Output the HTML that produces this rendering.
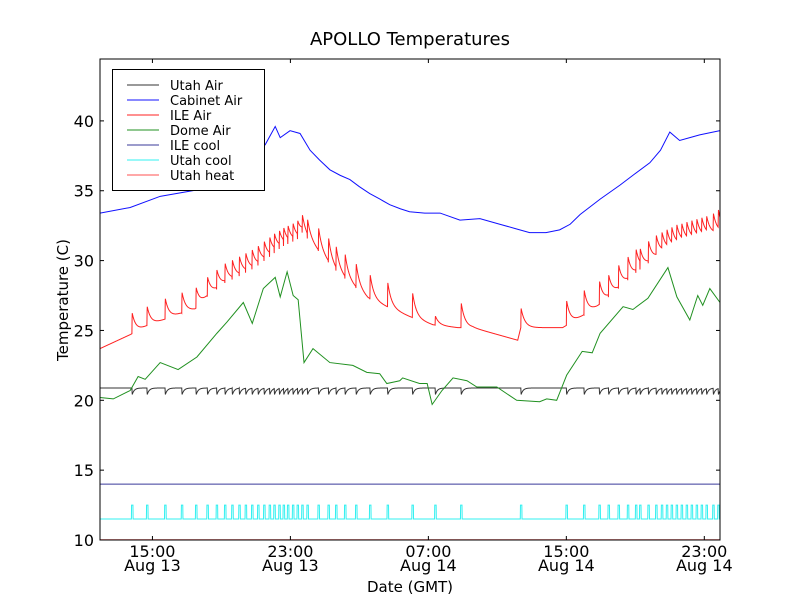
<!DOCTYPE html>
<html><head><meta charset="utf-8"><style>
body{margin:0;background:#fff}
svg{display:block;font-family:"DejaVu Sans","Liberation Sans",sans-serif}
</style></head><body>
<svg id="chart" width="800" height="600" viewBox="0 0 800 600">
<rect width="800" height="600" fill="#fff"/>
<text x="410" y="45" font-size="18" text-anchor="middle">APOLLO Temperatures</text>
<g id="plot"></g>
<g id="axes"></g>
<text x="410" y="592" font-size="15" text-anchor="middle">Date (GMT)</text>
<text transform="translate(68,300) rotate(-90)" font-size="15" text-anchor="middle">Temperature (C)</text>
<g id="legend"></g>
</svg>
<script>
// hours since 00:00 Aug 13
const xTicks = [15, 23, 31, 39, 47];
const xTickTimes = ["15:00", "23:00", "07:00", "15:00", "23:00"];
const xTickDates = ["Aug 13", "Aug 13", "Aug 14", "Aug 14", "Aug 14"];
const yTicks = [10, 15, 20, 25, 30, 35, 40];
const seriesNames = ["Utah Air","Cabinet Air","ILE Air","Dome Air","ILE cool","Utah cool","Utah heat"];
const seriesColors = ["#333","#1010ff","#ff2020","#209020","#3a3a9a","#30f0f0","#ff5050"];
// heater event times (hours)
const spikeTimes = [13.81,14.68,15.73,16.70,17.52,18.18,18.72,19.20,19.62,20.03,20.40,20.77,21.12,21.47,21.79,22.06,22.35,22.60,22.85,23.14,23.41,23.68,23.98,24.62,25.20,25.64,26.16,26.80,27.61,28.63,30.07,31.39,32.89,36.36,39.00,40.02,40.91,41.44,42.02,42.56,43.03,43.27,43.75,44.20,44.53,44.82,45.10,45.39,45.68,45.97,46.26,46.55,46.84,47.12,47.51,47.80];
const spikeAmps = [1.6,1.5,1.6,1.6,1.6,1.5,1.5,1.5,1.5,1.5,1.5,1.5,1.5,1.5,1.5,1.5,1.4,1.4,1.4,1.4,1.4,1.4,1.5,1.8,1.9,1.9,1.9,1.9,1.9,1.9,1.9,0.7,1.9,1.5,1.9,1.9,1.8,1.7,1.8,1.8,1.8,1.6,1.7,1.7,1.6,1.6,1.6,1.6,1.5,1.5,1.5,1.5,1.5,1.5,1.6,1.8];
const ileBaseT = [11.96,13.71,14.64,15.73,16.60,17.47,18.16,19.20,19.89,20.96,21.83,22.52,23.39,23.68,24.54,25.18,25.70,26.74,27.49,28.59,29.91,31.27,32.72,33.58,36.18,36.36,38.78,39.88,40.78,41.94,43.10,44.60,45.75,47.14,47.91];
const ileBaseV = [23.7,24.7,25.3,25.8,26.2,26.5,27.4,28.4,28.8,29.5,30.3,31.0,31.5,32.0,30.8,29.9,29.2,28.1,27.3,26.7,26.0,25.4,25.2,25.2,24.3,25.2,25.2,26.0,26.7,27.9,29.2,30.6,31.3,31.8,32.0];
const cabT = [11.96,13.71,15.45,17.76,20.10,21.54,22.12,22.41,22.98,23.56,24.14,24.69,25.29,25.89,26.45,26.99,27.60,28.19,28.76,29.39,29.91,30.79,31.68,32.83,33.99,35.14,36.02,36.87,37.82,38.61,39.22,39.80,40.96,42.11,42.96,43.84,44.46,45.00,45.57,46.16,46.73,47.91];
const cabV = [33.4,33.8,34.6,35.1,36.5,38.3,39.6,38.8,39.3,39.1,37.9,37.2,36.5,36.1,35.8,35.3,34.8,34.4,34.0,33.7,33.5,33.4,33.4,32.9,33.0,32.6,32.3,32.0,32.0,32.2,32.6,33.3,34.4,35.4,36.2,37.0,37.9,39.2,38.6,38.8,39.0,39.3];
const domeT = [11.96,12.73,13.71,14.17,14.58,15.45,16.49,17.58,18.74,19.32,20.27,20.79,21.43,22.12,22.41,22.81,23.16,23.45,23.79,24.31,25.29,26.62,27.43,28.18,28.59,29.34,29.51,30.49,30.93,31.22,31.79,32.43,33.24,33.81,34.97,36.12,37.45,37.86,38.44,39.02,39.92,40.50,40.96,42.29,42.86,43.73,44.89,45.41,46.16,46.62,46.91,47.32,47.91];
const domeV = [20.2,20.1,20.7,21.7,21.5,22.7,22.2,23.1,24.8,25.6,27.0,25.5,28.0,28.8,27.4,29.2,27.5,27.2,22.7,23.7,22.7,22.5,22.0,21.9,21.2,21.4,21.6,21.2,21.2,19.7,20.7,21.6,21.4,20.95,20.95,20.0,19.9,20.1,20.0,21.8,23.5,23.4,24.8,26.7,26.5,27.3,29.5,27.4,25.75,27.5,26.8,28.0,27.0];
const utahAirBase = 20.88;
const utahAirDip = 0.55;
const ileCool = 14.0;
const utahCoolBase = 11.5;
const utahCoolPulse = 12.5;

const X0=100,X1=720,Y0=59,Y1=540, TMIN=11.96, TMAX=47.91, VMIN=10, VMAX=44.43;
const sx = t => X0 + (t-TMIN)/(TMAX-TMIN)*(X1-X0);
const sy = v => Y1 - (v-VMIN)/(VMAX-VMIN)*(Y1-Y0);
const NS="http://www.w3.org/2000/svg";
function mk(tag, attrs, parent){const e=document.createElementNS(NS,tag);for(const k in attrs)e.setAttribute(k,attrs[k]);parent.appendChild(e);return e;}
function interp(ts, vs, t){if(t<=ts[0])return vs[0];for(let i=1;i<ts.length;i++){if(t<=ts[i]){const f=(t-ts[i-1])/(ts[i]-ts[i-1]);return vs[i-1]+f*(vs[i]-vs[i-1]);}}return vs[vs.length-1];}
function lastSpike(t){let k=-1;for(let i=0;i<spikeTimes.length;i++){if(spikeTimes[i]<=t)k=i;}return k;}
const plot=document.getElementById('plot');
const samples=[];for(let t=TMIN;t<=TMAX+1e-9;t+=0.01)samples.push(t);
function drawLine(pts, color, name){
  const p=mk('polyline',{points:pts.map(p=>sx(p[0]).toFixed(2)+','+sy(p[1]).toFixed(2)).join(' '),fill:'none',stroke:color,'stroke-width':1},plot);
  
  
}
// Utah cool
{const pts=[[TMIN,10],[TMIN,utahCoolBase]];spikeTimes.forEach(s=>{pts.push([s-0.03,utahCoolBase],[s-0.02,utahCoolPulse],[s+0.06,utahCoolPulse],[s+0.07,utahCoolBase]);});pts.push([TMAX,utahCoolBase]);drawLine(pts,seriesColors[5],'utah-cool-line');}
// ILE cool
drawLine([[TMIN,10.6],[TMIN,ileCool],[TMAX,ileCool]],seriesColors[4],'ile-cool-line');
// Utah heat (at floor)
drawLine([[TMIN,10.02],[TMAX,10.02]],seriesColors[6],'utah-heat-line');
// Utah Air
drawLine(samples.map(t=>{const k=lastSpike(t);let v=utahAirBase;if(k>=0){const d=t-spikeTimes[k];v-=utahAirDip*Math.exp(-d/0.12)*Math.min(1,d/0.02);}return [t,v];}),seriesColors[0],'utah-air-line');
// Dome Air
drawLine(domeT.map((t,i)=>[t,domeV[i]]),seriesColors[3],'dome-air-line');
// ILE Air
drawLine(samples.map(t=>{const k=lastSpike(t);let v=interp(ileBaseT,ileBaseV,t);if(k>=0){const d=t-spikeTimes[k];v+=spikeAmps[k]*Math.exp(-d/0.22)*Math.min(1,d/0.015);}return [t,v];}),seriesColors[2],'ile-air-line');
// Cabinet Air
drawLine(cabT.map((t,i)=>[t,cabV[i]]),seriesColors[1],'cabinet-air-line');

// axes
const axes=document.getElementById('axes');
const fr=mk('rect',{x:X0,y:Y0,width:X1-X0,height:Y1-Y0,fill:'none',stroke:'#000','stroke-width':1},axes);


yTicks.forEach(v=>{
  const y=sy(v);
  mk('line',{x1:X0,x2:X0+4,y1:y,y2:y,stroke:'#000'},axes);
  mk('line',{x1:X1,x2:X1-4,y1:y,y2:y,stroke:'#000'},axes);
  const tx=mk('text',{x:X0-6,y:y+6,'font-size':16,'text-anchor':'end'},axes);
  tx.textContent=v;
  
  
});
xTicks.forEach((h,i)=>{
  const x=sx(h);
  mk('line',{x1:x,x2:x,y1:Y1,y2:Y1-4,stroke:'#000'},axes);
  mk('line',{x1:x,x2:x,y1:Y0,y2:Y0+4,stroke:'#000'},axes);
  const a=mk('text',{x:x,y:557,'font-size':16,'text-anchor':'middle'},axes);
  a.textContent=xTickTimes[i];
  
  
  const b=mk('text',{x:x,y:571,'font-size':16,'text-anchor':'middle'},axes);
  b.textContent=xTickDates[i];
  
  
});
// legend
const lg=document.getElementById('legend');
const lb=mk('rect',{x:112.5,y:69.5,width:152,height:121,fill:'#fff',stroke:'#000','stroke-width':1},lg);


seriesNames.forEach((n,i)=>{
  const y=85+i*15;
  const g=mk('g',{},lg);
  
  
  mk('line',{x1:127,x2:159,y1:y,y2:y,stroke:seriesColors[i],'stroke-width':1},g);
  const t=mk('text',{x:170,y:y+5,'font-size':13},g);
  t.textContent=n;
});
</script>
</body></html>
